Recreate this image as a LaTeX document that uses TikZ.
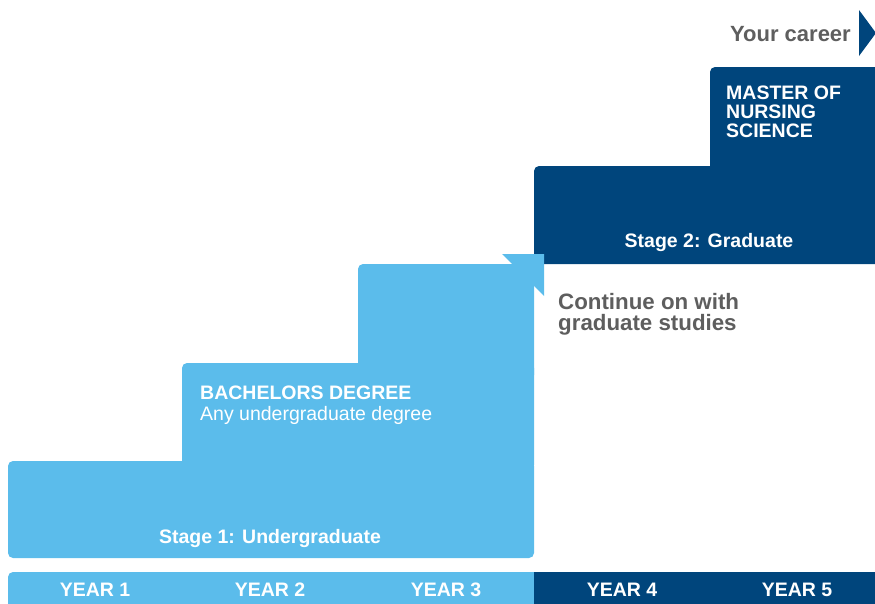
\documentclass[tikz,border=0pt]{standalone}
\usepackage{fontspec}
\setmainfont{Liberation Sans}
\definecolor{ugblue}{HTML}{5BBCEB}
\definecolor{pgblue}{HTML}{00457C}
\definecolor{txtgray}{HTML}{5E5E5E}
\tikzset{
  whitetext/.style={text=white,inner sep=0pt,font=\fontsize{19.5}{21}\selectfont\bfseries},
  graytext/.style={text=txtgray,inner sep=0pt,font=\fontsize{22.3}{20.5}\selectfont\bfseries}
}

\begin{document}
\begin{tikzpicture}[x=1pt,y=-1pt]
\clip (0,0) rectangle (875,603);
% graduate steps
\fill[pgblue,rounded corners=5] (534,166) rectangle (890,264);
\fill[pgblue,rounded corners=5] (710,67) rectangle (890,180);
\fill[pgblue] (859,10) -- (876,33) -- (859,56) -- cycle;
% undergraduate steps
\fill[ugblue,rounded corners=5] (8,461) rectangle (534,558);
\fill[ugblue,rounded corners=5] (182,363) rectangle (534,470);
\fill[ugblue,rounded corners=5] (358,264) rectangle (534,380);
\fill[ugblue] (502,254) -- (544,254) -- (544,296) -- cycle;
% years
\fill[ugblue,rounded corners=5] (8,572) rectangle (545,620);
\fill[pgblue] (534,572) rectangle (890,620);
\foreach \x/\n in {95/1,270/2,446/3,622/4,797/5}
  \node[whitetext,anchor=base] (year\n) at (\x,596) {YEAR \n};
% labels (base = last line)
\node[whitetext,anchor=base] (stage1) at (270,543) {Stage 1: Undergraduate};
\node[whitetext,anchor=base] (stage2) at (709,247) {Stage 2: Graduate};
\node[whitetext,anchor=base west,align=left] (bachelor) at (200,420)
  {BACHELORS DEGREE\\{\mdseries Any undergraduate degree}};
\node[whitetext,anchor=base west,align=left,font=\fontsize{19.5}{19}\selectfont\bfseries]
  (master) at (726,137) {MASTER OF\\NURSING\\SCIENCE};
\node[graytext,anchor=base west,align=left] (continue) at (558,330)
  {Continue on with\\graduate studies};
\node[graytext,anchor=base east,font=\fontsize{22}{24}\selectfont\bfseries]
  (career) at (851,41) {Your career};
\end{tikzpicture}
\end{document}
